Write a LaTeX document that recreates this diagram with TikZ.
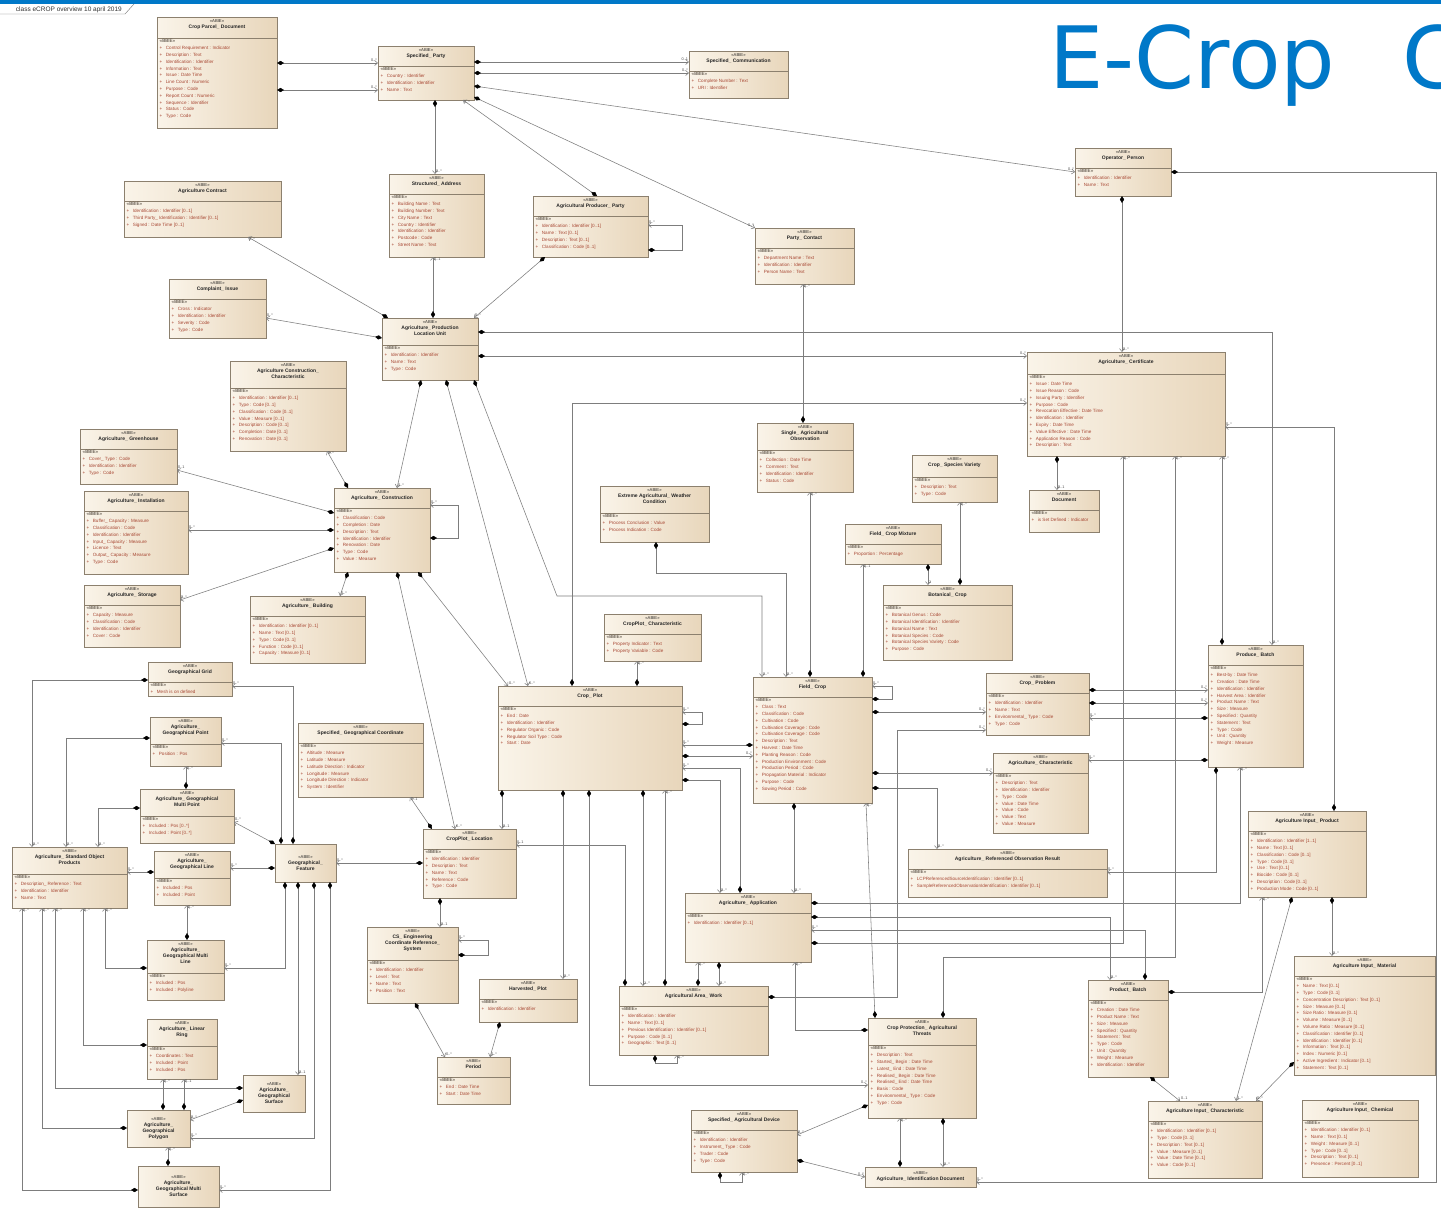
\documentclass[tikz,border=0pt]{standalone}
\usepackage{fontspec}
\setmainfont{Liberation Sans}
\newfontfamily\dejavu{DejaVu Sans}
\usetikzlibrary{arrows.meta,shadows}
\definecolor{boxL}{RGB}{250,244,233}
\definecolor{boxR}{RGB}{232,214,187}
\definecolor{borderC}{RGB}{140,128,110}
\definecolor{lineC}{RGB}{125,125,125}
\definecolor{attrC}{RGB}{168,72,52}
\definecolor{bbieC}{RGB}{60,50,40}
\definecolor{blueC}{RGB}{0,120,200}
\newcommand\ua{+\hspace{3.5pt}}
\newcommand\stf{\fontsize{4.2}{6}\selectfont\mdseries}
\tikzset{
  cls/.style={draw=borderC, line width=0.5pt, left color=boxL, right color=boxR,
    inner sep=0pt, outer sep=0pt,
    drop shadow={shadow xshift=1.2pt, shadow yshift=-1.2pt, opacity=0.3}},
  sepl/.style={draw=borderC, line width=0.45pt},
  ttl/.style={anchor=north, align=center, inner sep=0pt, text=black!85,
    font=\fontsize{5}{6}\selectfont\bfseries},
  att/.style={anchor=north west, align=left, inner sep=0pt, text=attrC,
    font=\fontsize{4.6}{6.8}\selectfont},
  as/.style={draw=lineC, line width=0.55pt,
    {Diamond[length=7pt,width=4.2pt,color=black,fill=black]}-{Straight Barb[length=3pt,width=5pt]}},
  mult/.style={font=\fontsize{3.8}{4}\selectfont, text=black!70, inner sep=0.8pt, pos=1},
  mN/.style={mult, anchor=south west},
  mS/.style={mult, anchor=north west},
  mW/.style={mult, anchor=south east},
  mE/.style={mult, anchor=south west}
}
\newcommand\ubox[8]{%
  \node[cls, minimum width={#4pt-#2pt}, minimum height={#5pt-#3pt}] (#1) at ({(#2+#4)/2},{(#3+#5)/2}) {};
  \draw[sepl] (#2,#3+#6) -- (#4,#3+#6);
  \node[ttl] (#1-t) at ({(#2+#4)/2},#3+2.5) {{\stf «ABIE»}\\#7};
  \begin{scope}
    \clip (#2,#3) rectangle (#4,#5);
    \node[att] (#1-a) at (#2+2.5,#3+#6+1.5) {{\color{bbieC}«BBIE»}\\#8};
  \end{scope}
}
\newcommand\uhdr[6]{%
  \node[cls, minimum width={#4pt-#2pt}, minimum height={#5pt-#3pt}] (#1) at ({(#2+#4)/2},{(#3+#5)/2}) {};
  \node[ttl, anchor=center] (#1-t) at (#1.center) {{\stf «ABIE»}\\#6};
}
\begin{document}
\begin{tikzpicture}[x=1pt,y=-1pt]
\useasboundingbox (0,0) rectangle (1441,1210);
\fill[white] (0,0) rectangle (1441,1210);
\fill[blueC] (0,0) rectangle (1441,3.5);
\draw[black!55, line width=0.4pt] (0,14) -- (125,14) -- (134,4);
\node[font=\fontsize{6.5}{7}\selectfont, anchor=east, text=black!80, inner sep=0pt] (hdr) at (122,9.5) {class eCROP overview 10 april 2019};
\node[font=\dejavu\fontsize{86}{90}\selectfont, text=blueC, anchor=base west, inner sep=0pt] (title) at (1049,88) {E-Crop\hspace{67pt}C};

% ---------------- classes ----------------
\ubox{cpd}{157}{17}{277}{128}{21}{Crop Parcel\_ Document}{\ua Control Requirement : Indicator\\\ua Description : Text\\\ua Identification : Identifier\\\ua Information : Text\\\ua Issue : Date Time\\\ua Line Count : Numeric\\\ua Purpose : Code\\\ua Report Count : Numeric\\\ua Sequence : Identifier\\\ua Status : Code\\\ua Type : Code}
\ubox{sp}{378}{46}{474}{100}{20}{Specified\_ Party}{\ua Country : Identifier\\\ua Identification : Identifier\\\ua Name : Text}
\ubox{sc}{689}{51}{788}{98}{20}{Specified\_ Communication}{\ua Complete Number : Text\\\ua URI : Identifier}
\ubox{op}{1075}{148}{1171}{196}{20}{Operator\_ Person}{\ua Identification : Identifier\\\ua Name : Text}
\ubox{sa}{389}{174}{484}{257}{20}{Structured\_ Address}{\ua Building Name : Text\\\ua Building Number : Text\\\ua City Name : Text\\\ua Country : Identifier\\\ua Identification : Identifier\\\ua Postcode : Code\\\ua Street Name : Text}
\ubox{acon}{124}{181}{281}{237}{20}{Agriculture Contract}{\ua Identification : Identifier [0..1]\\\ua Third Party\_ Identification : Identifier [0..1]\\\ua Signed : Date Time [0..1]}
\ubox{app}{533}{196}{648}{257}{20}{Agricultural Producer\_ Party}{\ua Identification : Identifier [0..1]\\\ua Name : Text [0..1]\\\ua Description : Text [0..1]\\\ua Classification : Code [0..1]}
\ubox{pc}{755}{228}{854}{284}{20}{Party\_ Contact}{\ua Department Name : Text\\\ua Identification : Identifier\\\ua Person Name : Text}
\ubox{ci}{169}{279}{266}{338}{20}{Complaint\_ Issue}{\ua Cross : Indicator\\\ua Identification : Identifier\\\ua Severity : Code\\\ua Type : Code}
\ubox{aplu}{382}{318}{478}{380}{27}{Agriculture\_ Production\\Location Unit}{\ua Identification : Identifier\\\ua Name : Text\\\ua Type : Code}
\ubox{acc}{230}{361}{346}{451}{27}{Agriculture Construction\_\\Characteristic}{\ua Identification : Identifier [0..1]\\\ua Type : Code [0..1]\\\ua Classification : Code [0..1]\\\ua Value : Measure [0..1]\\\ua Description : Code [0..1]\\\ua Completion : Date [0..1]\\\ua Renovation : Date [0..1]}
\ubox{acert}{1027}{352}{1225}{456}{22}{Agriculture\_ Certificate}{\ua Issue : Date Time\\\ua Issue Reason : Code\\\ua Issuing Party : Identifier\\\ua Purpose : Code\\\ua Revocation Effective : Date Time\\\ua Identification : Identifier\\\ua Expiry : Date Time\\\ua Value Effective : Date Time\\\ua Application Reason : Code\\\ua Description : Text}
\ubox{sao}{757}{423}{853}{492}{27}{Single\_ Agricultural\\Observation}{\ua Collection : Date Time\\\ua Comment : Text\\\ua Identification : Identifier\\\ua Status : Code}
\ubox{gh}{80}{429}{177}{484}{20}{Agriculture\_ Greenhouse}{\ua Cover\_ Type : Code\\\ua Identification : Identifier\\\ua Type : Code}
\ubox{csv}{912}{455}{997}{502}{22}{Crop\_ Species Variety}{\ua Description : Text\\\ua Type : Code}
\ubox{inst}{84}{491}{188}{574}{20}{Agriculture\_ Installation}{\ua Buffer\_ Capacity : Measure\\\ua Classification : Code\\\ua Identification : Identifier\\\ua Input\_ Capacity : Measure\\\ua Licence : Text\\\ua Output\_ Capacity : Measure\\\ua Type : Code}
\ubox{ac}{334}{488}{430}{572}{20}{Agriculture\_ Construction}{\ua Classification : Code\\\ua Completion : Date\\\ua Description : Text\\\ua Identification : Identifier\\\ua Renovation : Date\\\ua Type : Code\\\ua Value : Measure}
\ubox{ew}{600}{486}{709}{542}{27}{Extreme Agricultural\_ Weather\\Condition}{\ua Process Conclusion : Value\\\ua Process Indication : Code}
\ubox{doc}{1029}{490}{1099}{532}{20}{Document}{\ua is Set Defined : Indicator}
\ubox{fcm}{845}{524}{941}{564}{20}{Field\_ Crop Mixture}{\ua Proportion : Percentage}
\ubox{stor}{84}{585}{180}{647}{20}{Agriculture\_ Storage}{\ua Capacity : Measure\\\ua Classification : Code\\\ua Identification : Identifier\\\ua Cover : Code}
\ubox{bot}{883}{585}{1012}{660}{20}{Botanical\_ Crop}{\ua Botanical Genus : Code\\\ua Botanical Identification : Identifier\\\ua Botanical Name : Text\\\ua Botanical Species : Code\\\ua Botanical Species Variety : Code\\\ua Purpose : Code}
\ubox{bld}{250}{596}{365}{663}{20}{Agriculture\_ Building}{\ua Identification : Identifier [0..1]\\\ua Name : Text [0..1]\\\ua Type : Code [0..1]\\\ua Function : Code [0..1]\\\ua Capacity : Measure [0..1]}
\ubox{cpc}{604}{614}{701}{661}{20}{CropPlot\_ Characteristic}{\ua Property Indicator : Text\\\ua Property Variable : Code}
\ubox{prb}{1208}{645}{1303}{767}{20}{Produce\_ Batch}{\ua Best-by : Date Time\\\ua Creation : Date Time\\\ua Identification : Identifier\\\ua Harvest Area : Identifier\\\ua Product Name : Text\\\ua Size : Measure\\\ua Specified : Quantity\\\ua Statement : Text\\\ua Type : Code\\\ua Unit : Quantity\\\ua Weight : Measure}
\ubox{gg}{148}{662}{232}{696}{20}{Geographical Grid}{\ua Mesh is on defined}
\ubox{cpr}{986}{673}{1089}{735}{20}{Crop\_ Problem}{\ua Identification : Identifier\\\ua Name : Text\\\ua Environmental\_ Type : Code\\\ua Type : Code}
\ubox{fc}{753}{677}{872}{803}{20}{Field\_ Crop}{\ua Class : Text\\\ua Classification : Code\\\ua Cultivation : Code\\\ua Cultivation Coverage : Code\\\ua Cultivation Coverage : Code\\\ua Description : Text\\\ua Harvest : Date Time\\\ua Planting Reason : Code\\\ua Production Environment : Code\\\ua Production Period : Code\\\ua Propagation Material : Indicator\\\ua Purpose : Code\\\ua Sowing Period : Code}
\ubox{cp}{498}{686}{682}{790}{20}{Crop\_ Plot}{\ua End : Date\\\ua Identification : Identifier\\\ua Regulator Organic : Code\\\ua Regulator Soil Type : Code\\\ua Start : Date}
\ubox{gpt}{150}{717}{221}{766}{27}{Agriculture\_\\Geographical Point}{\ua Position : Pos}
\ubox{sgc}{298}{723}{423}{797}{20}{Specified\_ Geographical Coordinate}{\ua Altitude : Measure\\\ua Latitude : Measure\\\ua Latitude Direction : Indicator\\\ua Longitude : Measure\\\ua Longitude Direction : Indicator\\\ua System : Identifier}
\ubox{ach}{993}{753}{1088}{833}{20}{Agriculture\_ Characteristic}{\ua Description : Text\\\ua Identification : Identifier\\\ua Type : Code\\\ua Value : Date Time\\\ua Value : Code\\\ua Value : Text\\\ua Value : Measure}
\ubox{mpt}{140}{789}{234}{843}{27}{Agriculture\_ Geographical\\Multi Point}{\ua Included : Pos [0..*]\\\ua Included : Point [0..*]}
\ubox{ip}{1248}{811}{1366}{897}{20}{Agriculture Input\_ Product}{\ua Identification : Identifier [1..1]\\\ua Name : Text [0..1]\\\ua Classification : Code [0..1]\\\ua Type : Code [0..1]\\\ua Use : Text [0..1]\\\ua Biocide : Code [0..1]\\\ua Description : Code [0..1]\\\ua Production Mode : Code [0..1]}
\ubox{cpl}{423}{829}{516}{898}{20}{CropPlot\_ Location}{\ua Identification : Identifier\\\ua Description : Text\\\ua Name : Text\\\ua Reference : Code\\\ua Type : Code}
\uhdr{gf}{275}{844}{336}{882}{Geographical\_\\Feature}
\ubox{sop}{12}{847}{127}{908}{27}{Agriculture\_ Standard Object\\Products}{\ua Description\_ Reference : Text\\\ua Identification : Identifier\\\ua Name : Text}
\ubox{gl}{154}{851}{230}{905}{27}{Agriculture\_\\Geographical Line}{\ua Included : Pos\\\ua Included : Point}
\ubox{rob}{908}{849}{1107}{897}{20}{Agriculture\_ Referenced Observation Result}{\ua LCPReferencedSourceIdentification : Identifier [0..1]\\\ua SampleReferencedObservationIdentification : Identifier [0..1]}
\ubox{aa}{685}{893}{811}{962}{20}{Agriculture\_ Application}{\ua Identification : Identifier [0..1]}
\ubox{cse}{367}{927}{458}{1003}{33}{CS\_ Engineering\\Coordinate Reference\_\\System}{\ua Identification : Identifier\\\ua Level : Text\\\ua Name : Text\\\ua Position : Text}
\ubox{ml}{147}{940}{224}{1000}{33}{Agriculture\_\\Geographical Multi\\Line}{\ua Included : Pos\\\ua Included : Polyline}
\ubox{im}{1294}{956}{1435}{1075}{20}{Agriculture Input\_ Material}{\ua Name : Text [0..1]\\\ua Type : Code [0..1]\\\ua Concentration Description : Text [0..1]\\\ua Size : Measure [0..1]\\\ua Size Ratio : Measure [0..1]\\\ua Volume : Measure [0..1]\\\ua Volume Ratio : Measure [0..1]\\\ua Classification : Identifier [0..1]\\\ua Identification : Identifier [0..1]\\\ua Information : Text [0..1]\\\ua Index : Numeric [0..1]\\\ua Active Ingredient : Indicator [0..1]\\\ua Statement : Text [0..1]}
\ubox{hp}{479}{979}{577}{1022}{20}{Harvested\_ Plot}{\ua Identification : Identifier}
\ubox{pb}{1088}{980}{1168}{1077}{20}{Product\_ Batch}{\ua Creation : Date Time\\\ua Product Name : Text\\\ua Size : Measure\\\ua Specified : Quantity\\\ua Statement : Text\\\ua Type : Code\\\ua Unit : Quantity\\\ua Weight : Measure\\\ua Identification : Identifier}
\ubox{aw}{619}{986}{768}{1055}{20}{Agricultural Area\_ Work}{\ua Identification : Identifier\\\ua Name : Text [0..1]\\\ua Previous Identification : Identifier [0..1]\\\ua Purpose : Code [0..1]\\\ua Geographic : Text [0..1]}
\ubox{lr}{147}{1019}{217}{1079}{27}{Agriculture\_ Linear\\Ring}{\ua Coordinates : Text\\\ua Included : Point\\\ua Included : Pos}
\ubox{cpt}{868}{1018}{976}{1118}{27}{Crop Protection\_ Agricultural\\Threats}{\ua Description : Text\\\ua Started\_ Begin : Date Time\\\ua Latest\_ End : Date Time\\\ua Realised\_ Begin : Date Time\\\ua Realised\_ End : Date Time\\\ua Basis : Code\\\ua Environmental\_ Type : Code\\\ua Type : Code}
\ubox{per}{437}{1057}{510}{1104}{20}{Period}{\ua End : Date Time\\\ua Start : Date Time}
\uhdr{gs}{243}{1075}{305}{1112}{Agriculture\_\\Geographical\\Surface}
\ubox{ic}{1148}{1101}{1262}{1178}{20}{Agriculture Input\_ Characteristic}{\ua Identification : Identifier [0..1]\\\ua Type : Code [0..1]\\\ua Description : Text [0..1]\\\ua Value : Measure [0..1]\\\ua Value : Date Time [0..1]\\\ua Value : Code [0..1]}
\ubox{chem}{1302}{1100}{1418}{1177}{20}{Agriculture Input\_ Chemical}{\ua Identification : Identifier [0..1]\\\ua Name : Text [0..1]\\\ua Weight : Measure [0..1]\\\ua Type : Code [0..1]\\\ua Description : Text [0..1]\\\ua Presence : Percent [0..1]}
\ubox{sad}{691}{1110}{797}{1172}{20}{Specified\_ Agricultural Device}{\ua Identification : Identifier\\\ua Instrument\_ Type : Code\\\ua Trader : Code\\\ua Type : Code}
\uhdr{gpo}{127}{1110}{190}{1147}{Agriculture\_\\Geographical\\Polygon}
\uhdr{idd}{865}{1167}{976}{1187}{Agriculture\_ Identification Document}
\uhdr{ms}{138}{1166}{219}{1207}{Agriculture\_\\Geographical Multi\\Surface}

% ---------------- connectors: top ----------------
\draw[as] (cpd.east |- 0,63) -- node[mW]{0..*} (sp.west |- 0,63);
\draw[as] (cpd.east |- 0,90) -- node[mW]{0..*} (sp.west |- 0,90);
\draw[as] (sp.east |- 0,62) -- node[mW]{0..1} (sc.west |- 0,62);
\draw[as] (sp.east |- 0,73) -- node[mW]{0..*} (sc.west |- 0,73);
\draw[as] (sp.east |- 0,86) -- node[mW]{0..*} (op.west |- 0,172);
\draw[as] (sp.east |- 0,97) -- node[mW]{0..*} (pc.north west);
\draw[as] (app.north -| 597,0) -- node[mS]{0..*} (sp.south -| 463,0);
\draw[as] (sp.south -| 435,0) -- node[mN]{0..*} (sa.north -| 435,0);
\draw[as] (aplu.north -| 433,0) -- node[mS]{0..1} (sa.south -| 433,0);
\draw[as] (aplu.north -| 388,0) -- node[mS]{0..*} (acon.south -| 248,0);
\draw[as] (aplu.west |- 0,338) -- node[mE]{0..*} (ci.east |- 0,318);
\draw[as] (app.south -| 545,0) -- node[mN]{0..*} (aplu.north -| 474,0);
\draw[as] (app.east |- 0,250) -- ++(34,0) -- ++(0,-25) -- node[mE]{0..*} (app.east |- 0,225);
\draw[as] (op.south -| 1122,0) -- node[mN]{0..*} (acert.north -| 1122,0);
\draw[as] (op.east |- 0,172) -- (1436,172) -- (1436,1182) -- node[mE]{0..*} (idd.east |- 0,1182);
\draw[as] (sao.north -| 803,0) -- node[mS]{0..*} (pc.south -| 803,0);
\draw[as] (aplu.east |- 0,332) -- (1272,332) -- node[mN]{0..*} (prb.north -| 1272,0);
\draw[as] (aplu.east |- 0,356) -- node[mW]{0..*} (acert.west |- 0,356);
\draw[as] (cp.north -| 572,0) -- (572,403) -- node[mW]{0..*} (acert.west |- 0,403);
\draw[as] (acert.south -| 1057,0) -- node[mN]{0..1} (doc.north -| 1057,0);
\draw[as] (prb.north -| 1222,0) -- node[mS]{0..*} (acert.south -| 1222,0);
\draw[as] (ip.north -| 1334,0) -- (1334,427) -- node[mE]{0..*} (acert.east |- 0,427);
\draw[as] (cpt.north -| 943,0) -- (943,957) -- (1175,957) -- node[mS]{0..*} (acert.south -| 1175,0);
\draw[as] (aa.east |- 0,943) -- (1123,943) -- node[mS]{0..*} (acert.south -| 1123,0);

% ---------------- connectors: middle ----------------
\draw[as] (aplu.south -| 421,0) -- node[mN]{0..*} (ac.north -| 397,0);
\draw[as] (aplu.south -| 446,0) -- node[mN]{0..*} (cp.north -| 528,0);
\draw[as] (aplu.south -| 474,0) -- (557,596) -- (762,596) -- node[mN]{0..*} (fc.north -| 762,0);
\draw[as] (ac.south -| 418,0) -- node[mN]{0..*} (cp.north -| 508,0);
\draw[as] (ac.south -| 397,0) -- node[mN]{0..*} (cpl.north -| 455,0);
\draw[as] (ac.west |- 0,513) -- node[mE]{0..1} (gh.east |- 0,470);
\draw[as] (ac.west |- 0,530) -- node[mE]{0..*} (inst.east |- 0,530);
\draw[as] (ac.west |- 0,548) -- node[mE]{0..*} (stor.east |- 0,600);
\draw[as] (ac.north -| 348,0) -- node[mS]{0..*} (acc.south -| 327,0);
\draw[as] (ac.south -| 348,0) -- node[mN]{0..*} (bld.north -| 340,0);
\draw[as] (ac.east |- 0,538) -- ++(28,0) -- ++(0,-33) -- node[mE]{0..*} (ac.east |- 0,505);
\draw[as] (cp.north -| 637,0) -- node[mS]{0..*} (cpc.south -| 637,0);
\draw[as] (cp.east |- 0,724) -- ++(20,0) -- ++(0,-12) -- node[mE]{0..*} (cp.east |- 0,712);
\draw[as] (fc.west |- 0,745) -- node[mE]{0..*} (cp.east |- 0,745);
\draw[as] (cp.east |- 0,756) -- node[mW]{0..*} (fc.west |- 0,756);
\draw[as] (aa.north -| 740,0) -- (740,768) -- node[mE]{0..*} (cp.east |- 0,768);
\draw[as] (cp.east |- 0,780) -- (720,780) -- node[mN]{0..*} (aa.north -| 720,0);
\draw[as] (fc.south -| 794,0) -- node[mN]{0..*} (aa.north -| 794,0);
\draw[as] (cp.south -| 502,0) -- node[mN]{0..1} (cpl.north -| 502,0);
\draw[as] (cp.south -| 563,0) -- node[mN]{0..*} (hp.north -| 563,0);
\draw[as] (cp.south -| 589,0) -- (589,1085) -- node[mW]{0..*} (cpt.west |- 0,1085);
\draw[as] (cp.south -| 643,0) -- node[mN]{1..*} (aw.north -| 643,0);
\draw[as] (aw.north -| 665,0) -- node[mS]{0..*} (cp.south -| 665,0);
\draw[as] (aw.north -| 625,0) -- (625,845) -- node[mE]{0..1} (cpl.east |- 0,845);
\draw[as] (aw.north -| 698,0) -- node[mS]{0..*} (aa.south -| 698,0);
\draw[as] (aa.south -| 719,0) -- node[mN]{0..*} (aw.north -| 719,0);
\draw[as] (cpt.west |- 0,1030) -- (795,1030) -- node[mS]{0..*} (aa.south -| 795,0);
\draw[as] (aw.south -| 655,0) -- ++(0,8) -- ++(22,0) -- node[mS]{0..*} (aw.south -| 677,0);
\draw[as] (ew.south -| 656,0) -- (656,573) -- (786,573) -- node[mN]{0..*} (fc.north -| 786,0);
\draw[as] (fc.north -| 810,0) -- node[mS]{0..*} (sao.south -| 810,0);
\draw[as] (fc.north -| 863,0) -- node[mS]{0..1} (fcm.south -| 863,0);
\draw[as] (fcm.south -| 928,0) -- node[mN]{1} (bot.north -| 928,0);
\draw[as] (bot.north -| 960,0) -- node[mS]{0..*} (csv.south -| 960,0);
\draw[as] (cpl.west |- 0,863) -- node[mE]{0..*} (gf.east |- 0,863);
\draw[as] (cpl.north -| 432,0) -- node[mS]{0..1} (sgc.south -| 410,0);
\draw[as] (cpl.south -| 440,0) -- node[mN]{0..1} (cse.north -| 440,0);
\draw[as] (cse.east |- 0,955) -- ++(30,0) -- ++(0,-15) -- node[mE]{0..*} (cse.east |- 0,940);
\draw[as] (cse.south -| 415,0) -- node[mN]{0..*} (per.north -| 445,0);
\draw[as] (hp.south -| 500,0) -- node[mN]{0..*} (per.north -| 490,0);

% ---------------- connectors: right ----------------
\draw[as] (fc.east |- 0,712) -- node[mW]{0..*} (cpr.west |- 0,712);
\draw[as] (fc.east |- 0,773) -- node[mW]{0..*} (ach.west |- 0,773);
\draw[as] (fc.east |- 0,788) -- (937,788) -- node[mN]{0..*} (rob.north -| 937,0);
\draw[as] (fc.east |- 0,699) -- ++(20,0) -- ++(0,-13) -- node[mE]{0..*} (fc.east |- 0,686);
\draw[as] (cpr.east |- 0,690) -- node[mW]{0..*} (prb.west |- 0,690);
\draw[as] (cpr.east |- 0,703) -- node[mW]{0..*} (prb.west |- 0,703);
\draw[as] (prb.west |- 0,718) -- node[mE]{0..*} (cpr.east |- 0,718);
\draw[as] (prb.west |- 0,760) -- node[mE]{0..*} (ach.east |- 0,760);
\draw[as] (cpt.north -| 875,0) -- node[mS]{0..*} (fc.south -| 866,0);
\draw[as] (aw.east |- 0,997) -- (897,997) -- (897,730) -- node[mW]{0..*} (cpr.west |- 0,730);
\draw[as] (prb.south -| 1216,0) -- (1216,872) -- node[mE]{0..*} (rob.east |- 0,872);
\draw[as] (aa.east |- 0,903) -- (1240,903) -- node[mS]{0..*} (prb.south -| 1240,0);
\draw[as] (aa.east |- 0,917) -- (1110,917) -- node[mN]{0..*} (pb.north -| 1110,0);
\draw[as] (pb.north -| 1145,0) -- (1145,930) -- node[mE]{0..*} (aa.east |- 0,930);
\draw[as] (pb.east |- 0,992) -- (1262,992) -- node[mS]{0..*} (ip.south -| 1262,0);
\draw[as] (ip.south -| 1292,0) -- node[mN]{0..*} (ic.north -| 1236,0);
\draw[as] (ip.south -| 1332,0) -- node[mN]{0..*} (im.north -| 1332,0);
\draw[as] (im.west |- 0,1062) -- node[mN]{0..*} (ic.north -| 1256,0);
\draw[as] (pb.south -| 1150,0) -- node[mN]{0..1} (ic.north -| 1180,0);
\draw[as] (idd.north -| 900,0) -- node[mS]{0..*} (cpt.south -| 900,0);
\draw[as] (cpt.south -| 943,0) -- node[mN]{0..*} (idd.north -| 943,0);
\draw[as] (cpt.west |- 0,1105) -- node[mE]{0..*} (sad.east |- 0,1135);
\draw[as] (sad.east |- 0,1160) -- node[mW]{0..*} (idd.west |- 0,1177);
\draw[as] (sad.south -| 720,0) -- ++(0,10) -- ++(22,0) -- node[mS]{0..*} (sad.south -| 742,0);

% ---------------- connectors: geography ----------------
\draw[as] (gg.west |- 0,680) -- (32,680) -- node[mN]{0..*} (sop.north -| 32,0);
\draw[as] (gf.north -| 293,0) -- (293,686) -- node[mE]{0..*} (gg.east |- 0,686);
\draw[as] (gpt.west |- 0,738) -- (66,738) -- node[mN]{0..*} (sop.north -| 66,0);
\draw[as] (gf.north -| 281,0) -- (281,743) -- node[mE]{0..*} (gpt.east |- 0,743);
\draw[as] (mpt.north -| 186,0) -- node[mS]{0..*} (gpt.south -| 186,0);
\draw[as] (mpt.west |- 0,808) -- (98,808) -- node[mN]{0..*} (sop.north -| 98,0);
\draw[as] (gf.north west) -- node[mE]{0..*} (mpt.east |- 0,822);
\draw[as] (gf.west |- 0,868) -- node[mE]{0..*} (gl.east |- 0,868);
\draw[as] (gl.west |- 0,872) -- node[mE]{0..*} (sop.east |- 0,872);
\draw[as] (ml.north -| 187,0) -- node[mS]{0..*} (gl.south -| 187,0);
\draw[as] (ml.west |- 0,968) -- (105,968) -- node[mS]{0..*} (sop.south -| 105,0);
\draw[as] (gf.south -| 285,0) -- (285,968) -- node[mE]{0..*} (ml.east |- 0,968);
\draw[as] (lr.west |- 0,1045) -- (83,1045) -- node[mS]{0..*} (sop.south -| 83,0);
\draw[as] (gpo.north -| 163,0) -- node[mS]{0..*} (lr.south -| 163,0);
\draw[as] (gpo.north -| 184,0) -- node[mS]{0..1} (lr.south -| 184,0);
\draw[as] (gs.west |- 0,1088) -- (55,1088) -- node[mS]{0..*} (sop.south -| 55,0);
\draw[as] (gs.west |- 0,1100) -- node[mE]{0..*} (gpo.east |- 0,1120);
\draw[as] (gf.south -| 298,0) -- node[mN]{0..1} (gs.north -| 298,0);
\draw[as] (gpo.west |- 0,1128) -- (42,1128) -- node[mS]{0..*} (sop.south -| 42,0);
\draw[as] (gf.south -| 314,0) -- (314,1138) -- node[mE]{0..*} (gpo.east |- 0,1138);
\draw[as] (ms.north -| 168,0) -- node[mS]{0..*} (gpo.south -| 168,0);
\draw[as] (ms.west |- 0,1190) -- (22,1190) -- node[mS]{0..*} (sop.south -| 22,0);
\draw[as] (gf.south -| 330,0) -- (330,1190) -- node[mE]{0..*} (ms.east |- 0,1190);
\end{tikzpicture}
\end{document}
